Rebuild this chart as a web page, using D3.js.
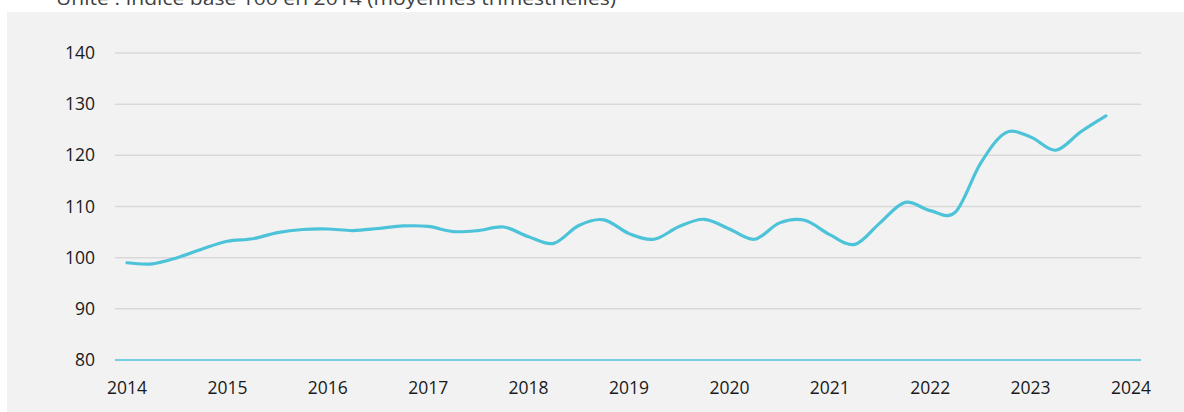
<!DOCTYPE html>
<html>
<head>
<meta charset="utf-8">
<script src="https://cdn.jsdelivr.net/npm/d3@7"></script>
<style>
  html, body { margin: 0; padding: 0; background: #ffffff; }
  svg { display: block; }
</style>
</head>
<body>
<svg id="chart" width="1184" height="412"></svg>
<script>
// ---- Data ----
const title = "Unité : Indice base 100 en 2014 (moyennes trimestrielles)";
const startYear = 2014;
const quarters = d3.range(40).map(i => startYear + i / 4); // 2014 Q1 .. 2023 Q4
const values = [
  99.0, 98.8, 100.0, 101.7,
  103.2, 103.7, 104.9, 105.5,
  105.6, 105.3, 105.7, 106.2,
  106.1, 105.1, 105.3, 106.0,
  104.1, 102.8, 106.3, 107.4,
  104.7, 103.6, 106.1, 107.5,
  105.6, 103.6, 106.8, 107.3,
  104.5, 102.6, 106.8, 110.8,
  109.2, 108.9, 118.4, 124.4,
  123.6, 121.0, 124.6, 127.7
];
const xTickLabels = ["2014","2015","2016","2017","2018","2019","2020","2021","2022","2023","2024"];
const yTicks = [80, 90, 100, 110, 120, 130, 140];

// ---- Layout ----
const svg = d3.select("#chart");
const W = 1184, H = 412;
const font = "'Open Sans', 'Liberation Sans', sans-serif";

svg.append("rect").attr("x", 0).attr("y", 0).attr("width", W).attr("height", H).attr("fill", "#ffffff");
svg.append("rect").attr("x", 7).attr("y", 12).attr("width", W - 7).attr("height", H - 12).attr("fill", "#f2f2f2");

svg.append("text")
  .attr("x", 56).attr("y", 5)
  .attr("font-family", font).attr("font-size", 19)
  .attr("fill", "#404040")
  .attr("textLength", 560).attr("lengthAdjust", "spacingAndGlyphs")
  .text(title);

const x = d3.scaleLinear().domain([2014, 2024]).range([127, 1131]);
const y = d3.scaleLinear().domain([80, 140]).range([360, 53]);
const gridX0 = 115, gridX1 = 1141;

// gridlines
svg.append("g").selectAll("line")
  .data(yTicks.filter(d => d !== 80))
  .join("line")
  .attr("x1", gridX0).attr("x2", gridX1)
  .attr("y1", d => y(d)).attr("y2", d => y(d))
  .attr("stroke", "#d9d9d9").attr("stroke-width", 1.5);

// baseline at 80
svg.append("line")
  .attr("x1", gridX0).attr("x2", gridX1)
  .attr("y1", y(80)).attr("y2", y(80))
  .attr("stroke", "#4cc3d8").attr("stroke-width", 1.5);

// y labels
svg.append("g").selectAll("text")
  .data(yTicks)
  .join("text")
  .attr("x", 95).attr("y", d => y(d))
  .attr("dy", "0.35em")
  .attr("text-anchor", "end")
  .attr("font-family", font).attr("font-size", 17.5)
  .attr("fill", "#1a1a1a")
  .text(d => d);

// x labels
svg.append("g").selectAll("text")
  .data(xTickLabels)
  .join("text")
  .attr("x", d => x(+d)).attr("y", 394)
  .attr("text-anchor", "middle")
  .attr("font-family", font).attr("font-size", 17.5)
  .attr("fill", "#1a1a1a")
  .text(d => d);

// line
const line = d3.line()
  .x((d, i) => x(quarters[i]))
  .y(d => y(d))
  .curve(d3.curveCardinal.tension(0));

svg.append("path")
  .datum(values)
  .attr("d", line)
  .attr("fill", "none")
  .attr("stroke", "#4cc3d8")
  .attr("stroke-width", 3.2)
  .attr("stroke-linecap", "round")
  .attr("stroke-linejoin", "round");
</script>
</body>
</html>
